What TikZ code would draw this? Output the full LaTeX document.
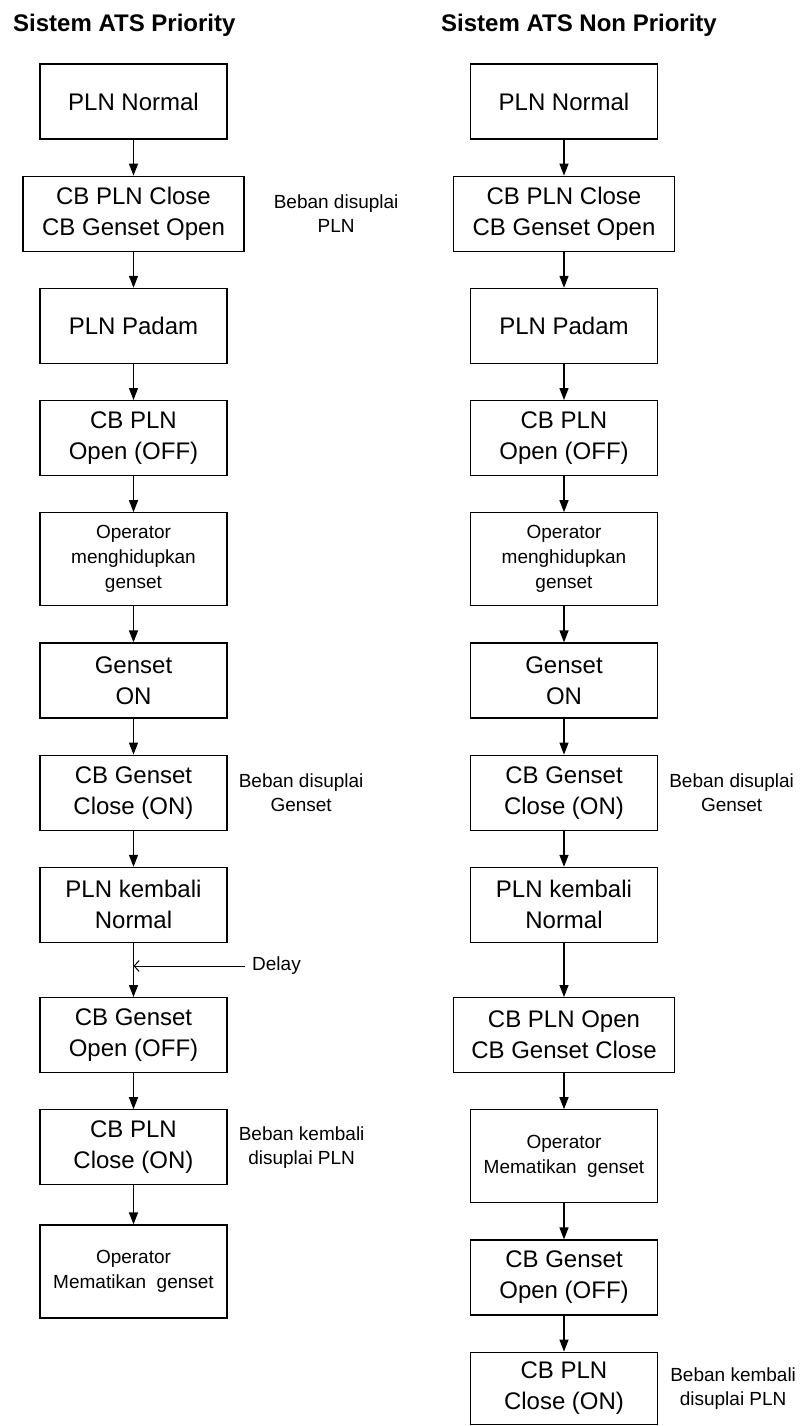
\documentclass[tikz,border=0pt]{standalone}
\usepackage{fontspec}
\setmainfont{Liberation Sans}
\usetikzlibrary{positioning,arrows.meta}
\begin{document}
\begin{tikzpicture}
    [x=1pt, y=-1pt, node distance=36pt,
      box/.style={draw, rectangle, line width=1.2pt, align=center,
        minimum width=187pt, minimum height=75pt, inner sep=2pt,
        font=\fontsize{24}{31}\selectfont},
      wide/.style={box, minimum width=221pt},
      tall/.style={box, minimum height=93pt, font=\fontsize{19}{25}\selectfont},
      note/.style={align=center, inner sep=0pt, font=\fontsize{19}{24}\selectfont},
      title/.style={inner sep=0pt, font=\bfseries\fontsize{24}{29}\selectfont},
      flow/.style={-{Triangle[length=12pt,width=9pt]}},
      every edge/.style={draw, line width=1.3pt}]
    \useasboundingbox (0,0) rectangle (802,1426);
    \node[title, anchor=base west] (tp) at (13,32) {Sistem ATS Priority};
    \node[title, anchor=base west] (tn) at (441,32) {Sistem ATS Non Priority};

    \node[box] (p1) at (133.5,101.5) {PLN Normal};
    \node[wide, below=of p1] (p2) {CB PLN Close\\CB Genset Open};
    \node[box, below=of p2] (p3) {PLN Padam};
    \node[box, below=of p3] (p4) {CB PLN\\Open (OFF)};
    \node[tall, below=of p4] (p5) {Operator\\menghidupkan\\genset};
    \node[box, below=of p5] (p6) {Genset\\ON};
    \node[box, below=of p6] (p7) {CB Genset\\Close (ON)};
    \node[box, below=of p7] (p8) {PLN kembali\\Normal};
    \node[box, below=54pt of p8] (p9) {CB Genset\\Open (OFF)};
    \node[box, below=of p9] (p10) {CB PLN\\Close (ON)};
    \node[tall, below=39pt of p10] (p11) {Operator\\Mematikan~ genset};
    \node[note, right=29pt of p2] (p2note) {Beban disuplai\\PLN};
    \node[note, right=11pt of p7] (p7note) {Beban disuplai\\Genset};
    \node[note, right=11pt of p10] (p10note) {Beban kembali\\disuplai PLN};
    \node[note, anchor=west, inner xsep=7pt] (delay) at (245,966) {Delay};

    \node[box] (n1) at (564,101.5) {PLN Normal};
    \node[wide, below=of n1] (n2) {CB PLN Close\\CB Genset Open};
    \node[box, below=of n2] (n3) {PLN Padam};
    \node[box, below=of n3] (n4) {CB PLN\\Open (OFF)};
    \node[tall, below=of n4] (n5) {Operator\\menghidupkan\\genset};
    \node[box, below=of n5] (n6) {Genset\\ON};
    \node[box, below=of n6] (n7) {CB Genset\\Close (ON)};
    \node[box, below=of n7] (n8) {PLN kembali\\Normal};
    \node[wide, below=54pt of n8] (n9) {CB PLN Open\\CB Genset Close};
    \node[tall, below=of n9] (n10) {Operator\\Mematikan~ genset};
    \node[box, below=of n10] (n11) {CB Genset\\Open (OFF)};
    \node[box, below=of n11, minimum height=72pt] (n12) {CB PLN\\Close (ON)};
    \node[note, right=11pt of n7] (n7note) {Beban disuplai\\Genset};
    \node[note, right=12pt of n12] (n12note) {Beban kembali\\disuplai PLN};

    \draw[flow] (p1) edge (p2) (p2) edge (p3) (p3) edge (p4) (p4) edge (p5)
      (p5) edge (p6) (p6) edge (p7) (p7) edge (p8) (p8) edge (p9)
      (p9) edge (p10) (p10) edge (p11);
    \draw[flow] (n1) edge (n2) (n2) edge (n3) (n3) edge (n4) (n4) edge (n5)
      (n5) edge (n6) (n6) edge (n7) (n7) edge (n8) (n8) edge (n9)
      (n9) edge (n10) (n10) edge (n11) (n11) edge (n12);
    \draw[line width=1pt, -{Straight Barb[length=5pt,width=11pt]}]
      (delay.west) -- (delay.west -| p8.south);
  \end{tikzpicture}
\end{document}
